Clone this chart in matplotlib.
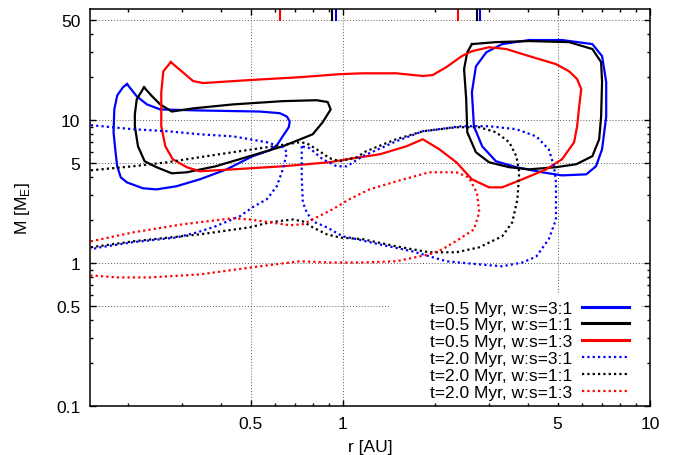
import matplotlib
matplotlib.use("Agg")
import matplotlib.pyplot as plt
from matplotlib.ticker import FixedLocator, FuncFormatter, NullFormatter
from matplotlib.patches import Rectangle
from matplotlib.lines import Line2D

plt.rcParams['font.family'] = ['Liberation Sans', 'DejaVu Sans']
plt.rcParams['font.size'] = 12

# ---------------- data (r in AU, M in Earth masses) ----------------
# t = 0.5 Myr, w:s = 3:1 (blue solid) -- two contours
blue05_a_r = [0.198, 0.192, 0.184, 0.180, 0.179, 0.182, 0.184, 0.189, 0.198, 0.223, 0.247, 0.287, 0.342,
              0.418, 0.508, 0.578, 0.609, 0.637, 0.666, 0.671, 0.657, 0.623, 0.536, 0.342, 0.254, 0.230,
              0.213, 0.198]
blue05_a_m = [17.9, 17.0, 14.9, 11.9, 8.24, 5.78, 4.76, 3.98, 3.67, 3.34, 3.28, 3.45, 3.86,
              4.53, 5.60, 6.16, 6.68, 7.73, 8.93, 9.8, 10.6, 11.2, 11.5, 11.7, 11.9, 12.9,
              14.7, 17.9]
blue05_b_r = [4.04, 5.17, 6.49, 6.98, 7.20, 7.20, 6.98, 6.67, 6.20, 5.17, 4.46, 3.67, 3.15, 2.84, 2.67,
              2.63, 2.71, 2.93, 3.30, 4.04]
blue05_b_m = [36.4, 36.4, 34.1, 28.1, 18.5, 10.6, 6.26, 4.76, 4.18, 4.11, 4.32, 4.69, 5.16, 6.57, 9.08,
              15.7, 23.8, 29.9, 34.1, 36.4]

# t = 0.5 Myr, w:s = 1:1 (black solid)
black05_a_r = [0.225, 0.213, 0.210, 0.210, 0.215, 0.226, 0.247, 0.277, 0.310, 0.385, 0.497, 0.637, 0.797,
               0.859, 0.912, 0.892, 0.821, 0.637, 0.438, 0.325, 0.277, 0.254, 0.239, 0.225]
black05_a_m = [17.0, 14.0, 11.0, 9.08, 6.57, 5.16, 4.69, 4.25, 4.32, 4.76, 5.60, 6.57, 7.97,
               9.68, 11.9, 13.4, 13.8, 13.6, 12.9, 12.1, 11.5, 12.9, 14.7, 17.0]
black05_b_r = [2.63, 3.15, 4.04, 5.45, 6.49, 6.93, 6.98, 6.93, 6.83, 6.49, 5.75, 4.94, 4.04, 3.48, 2.99,
               2.71, 2.54, 2.52, 2.48, 2.54, 2.63]
black05_b_m = [34.1, 35.2, 35.8, 35.2, 31.5, 25.5, 18.5, 10.6, 7.36, 5.60, 4.92, 4.69, 4.53, 4.69, 5.08,
               5.97, 8.24, 14.0, 22.8, 29.9, 34.1]

# t = 0.5 Myr, w:s = 1:3 (red solid)
red05_r = [0.275, 0.325, 0.350, 0.497, 0.723, 0.976, 1.16, 1.49, 1.82, 1.96, 2.17, 2.44, 2.63, 2.99,
           3.40, 4.04, 4.94, 5.45, 5.79, 5.97, 5.88, 5.79, 5.66, 5.17, 4.59, 3.84, 3.30, 2.99, 2.63,
           2.34, 2.06, 1.82, 1.61, 1.32, 1.03, 0.905, 0.637, 0.438, 0.342, 0.310, 0.279, 0.264,
           0.256, 0.256, 0.260, 0.275]
red05_m = [25.5, 18.8, 18.2, 19.1, 20.0, 21.0, 21.3, 21.3, 20.4, 20.7, 23.5, 28.1, 30.4, 32.4,
           31.5, 28.1, 24.7, 22.0, 19.4, 16.5, 12.5, 9.08, 7.01, 5.33, 4.53, 3.86, 3.39, 3.39, 3.86,
           5.08, 6.26, 7.36, 6.57, 5.78, 5.33, 5.08, 4.76, 4.53, 4.39, 4.69, 5.33, 6.57,
           9.08, 15.7, 22.0, 25.5]

# t = 2.0 Myr, w:s = 3:1 (blue dotted)
blue20_a_r = [0.151, 0.207, 0.268, 0.342, 0.438, 0.497, 0.565, 0.637, 0.657, 0.637, 0.609, 0.565, 0.508,
              0.462, 0.385, 0.335, 0.287, 0.207, 0.162, 0.151]
blue20_a_m = [9.23, 8.65, 8.37, 7.97, 7.71, 7.36, 7.01, 6.47, 5.97, 4.53, 3.45, 2.80, 2.46,
              2.13, 1.81, 1.64, 1.51, 1.40, 1.29, 1.25]
blue20_b_r = [0.734, 0.734, 0.734, 0.740, 0.762, 0.797, 0.886, 0.998, 1.11, 1.32, 1.68, 2.17, 2.78,
              3.30, 3.84, 4.26, 4.68, 4.94, 4.94, 4.94, 4.87, 4.68, 4.26, 3.67, 2.99, 2.44, 1.82,
              1.49, 1.16, 1.03, 0.954, 0.859, 0.779, 0.734]
blue20_b_m = [6.57, 5.33, 4.05, 2.66, 2.27, 1.96, 1.78, 1.54, 1.47, 1.35, 1.21, 1.03, 0.979,
              0.95, 1.01, 1.11, 1.47, 2.02, 2.50, 3.67, 4.76, 6.26, 7.71, 8.65, 9.08, 9.08, 8.37,
              7.12, 5.60, 4.76, 4.76, 5.33, 6.37, 6.57]

# t = 2.0 Myr, w:s = 1:1 (black dotted)
black20_r = [0.151, 0.207, 0.268, 0.342, 0.438, 0.565, 0.723, 0.762, 0.821, 0.905, 0.976, 1.11, 1.19,
             1.49, 1.82, 2.34, 2.78, 3.15, 3.48, 3.67, 3.75, 3.70, 3.56, 3.30, 2.78, 2.34, 1.91,
             1.49, 1.16, 0.976, 0.886, 0.797, 0.740, 0.687, 0.578, 0.497, 0.342, 0.207, 0.151]
black20_m = [4.46, 4.76, 5.08, 5.51, 5.97, 6.47, 7.01, 6.9, 6.26, 5.42, 5.16, 5.51, 6.07,
             7.36, 8.37, 8.93, 8.93, 8.24, 7.01, 5.60, 4.32, 2.80, 1.93, 1.54, 1.29, 1.19, 1.19,
             1.31, 1.47, 1.51, 1.59, 1.78, 1.96, 2.02, 1.93, 1.78, 1.59, 1.42, 1.29]

# t = 2.0 Myr, w:s = 1:3 (red dotted)
red20_r = [0.151, 0.207, 0.301, 0.438, 0.497, 0.578, 0.671, 0.740, 0.821, 0.926, 1.05, 1.22, 1.49,
           1.91, 2.34, 2.57, 2.73, 2.78, 2.67, 2.39, 2.11, 1.91, 1.49, 1.16, 0.905, 0.723, 0.497,
           0.342, 0.235, 0.184, 0.151]
red20_m = [1.42, 1.64, 1.87, 2.06, 2.02, 1.93, 1.84, 1.87, 2.09, 2.38, 2.80, 3.28, 3.73,
           4.32, 4.32, 3.98, 3.11, 2.27, 1.72, 1.47, 1.25, 1.15, 1.03, 1.01, 1.01, 1.03, 0.93,
           0.833, 0.794, 0.794, 0.82]

# markers along the top edge (r in AU)
mark_r = [0.626, 0.921, 0.949, 2.37, 2.73, 2.80]
mark_colors = ['red', 'black', 'blue', 'red', 'black', 'blue']

labels = ['t=0.5 Myr, w:s=3:1', 't=0.5 Myr, w:s=1:1', 't=0.5 Myr, w:s=1:3',
          't=2.0 Myr, w:s=3:1', 't=2.0 Myr, w:s=1:1', 't=2.0 Myr, w:s=1:3']

x_major = [0.5, 1, 5, 10]
y_major = [0.1, 0.5, 1, 5, 10, 50]

# ---------------- figure ----------------
fig = plt.figure(figsize=(6.74, 4.56), dpi=100)
ax = fig.add_axes([0.1335, 0.1075, 0.8309, 0.8705])
ax.set_xscale('log')
ax.set_yscale('log')
ax.set_xlim(0.15, 10)
ax.set_ylim(0.1, 60)

solid_lw = 1.6
dot_ls = (0, (1, 1.4))
dot_lw = 1.6

ax.plot(blue05_a_r, blue05_a_m, color='blue', lw=solid_lw)
ax.plot(blue05_b_r, blue05_b_m, color='blue', lw=solid_lw)
ax.plot(black05_a_r, black05_a_m, color='black', lw=solid_lw)
ax.plot(black05_b_r, black05_b_m, color='black', lw=solid_lw)
ax.plot(red05_r, red05_m, color='red', lw=solid_lw)
ax.plot(blue20_a_r, blue20_a_m, color='blue', lw=dot_lw, ls=dot_ls)
ax.plot(blue20_b_r, blue20_b_m, color='blue', lw=dot_lw, ls=dot_ls)
ax.plot(black20_r, black20_m, color='black', lw=dot_lw, ls=dot_ls)
ax.plot(red20_r, red20_m, color='red', lw=dot_lw, ls=dot_ls)

for r, c in zip(mark_r, mark_colors):
    ax.axvline(r, ymin=0.972, ymax=1.0, color=c, lw=1.5)

# grid
ax.set_axisbelow(True)
ax.grid(True, which='major', color='0.35', lw=0.7, ls=(0, (1, 2)))

# ticks
fmt = FuncFormatter(lambda v, p: f'{v:g}')
ax.xaxis.set_major_locator(FixedLocator(x_major))
ax.yaxis.set_major_locator(FixedLocator(y_major))
ax.xaxis.set_major_formatter(fmt)
ax.yaxis.set_major_formatter(fmt)
subs = (2, 3, 4, 6, 7, 8, 9)
xminor = [m * 10.0 ** e for e in (-1, 0) for m in subs]
yminor = [m * 10.0 ** e for e in (-1, 0, 1) for m in subs if m * 10.0 ** e < 60]
ax.xaxis.set_minor_locator(FixedLocator(xminor))
ax.yaxis.set_minor_locator(FixedLocator(yminor))
ax.xaxis.set_minor_formatter(NullFormatter())
ax.yaxis.set_minor_formatter(NullFormatter())
ax.tick_params(which='both', direction='in', top=True, right=True, width=1.0)
ax.tick_params(which='major', length=4.5, labelsize=12.5)
ax.tick_params(axis='y', which='major', pad=7)
ax.tick_params(axis='x', which='major', pad=7)
ax.tick_params(which='minor', length=2.5)
for s in ax.spines.values():
    s.set_linewidth(1.1)

ax.set_xlabel('r [AU]', fontsize=12.5, labelpad=6)
ax.set_ylabel(r'M [M$_\mathregular{E}$]', fontsize=12.5, labelpad=17)

# legend background box (hides grid)
ax.add_patch(Rectangle((0.536, 0.008), 0.448, 0.274, transform=ax.transAxes,
                       facecolor='white', edgecolor='none', zorder=1))

handles = [Line2D([], [], color='blue', lw=2.2), Line2D([], [], color='black', lw=2.2),
           Line2D([], [], color='red', lw=2.2),
           Line2D([], [], color='blue', lw=dot_lw, ls=dot_ls),
           Line2D([], [], color='black', lw=dot_lw, ls=dot_ls),
           Line2D([], [], color='red', lw=dot_lw, ls=dot_ls)]
leg = ax.legend(handles, labels, loc='lower right', bbox_to_anchor=(0.963, 0.015),
                frameon=False, markerfirst=False, handlelength=2.7, handletextpad=0.6,
                labelspacing=0.1, borderpad=0.0, borderaxespad=0.0, fontsize=12.5)

fig.savefig('out.png', dpi=100)
